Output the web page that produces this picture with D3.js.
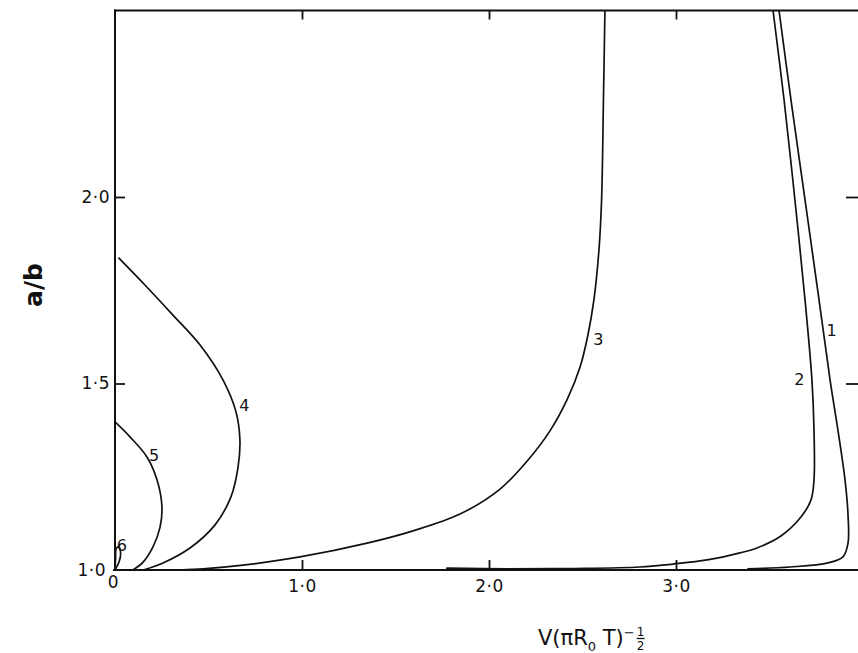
<!DOCTYPE html>
<html>
<head>
<meta charset="utf-8">
<script src="https://cdn.jsdelivr.net/npm/d3@7"></script>
<style>
  html, body { margin: 0; padding: 0; background: #fff; }
  svg { display: block; }
  text { font-family: "DejaVu Sans", sans-serif; fill: #111; }
</style>
</head>
<body>
<svg id="chart" width="858" height="653"></svg>
<script>
// Tick values and their printed labels
const xTicks = [0, 1, 2, 3];
const xTickLabels = ["0", "1·0", "2·0", "3·0"];
const yTicks = [1.0, 1.5, 2.0];
const yTickLabels = ["1·0", "1·5", "2·0"];

// Curves: [V(πR0T)^-1/2, a/b]
const curve1 = [[3.551, 2.5], [3.615, 2.260], [3.690, 1.992], [3.765, 1.724], [3.824, 1.509],
  [3.866, 1.375], [3.904, 1.241], [3.920, 1.147], [3.920, 1.072], [3.893, 1.035],
  [3.813, 1.019], [3.610, 1.008], [3.385, 1.003]];
const curve2 = [[3.519, 2.5], [3.578, 2.260], [3.636, 1.992], [3.690, 1.724], [3.727, 1.509],
  [3.738, 1.375], [3.738, 1.241], [3.722, 1.188], [3.668, 1.142], [3.561, 1.091],
  [3.433, 1.059], [3.342, 1.046], [3.166, 1.027], [2.984, 1.016], [2.807, 1.008],
  [2.449, 1.004], [2.096, 1.003], [1.775, 1.005]];
const curve3 = [[0.348, 1.0], [0.471, 1.003], [0.684, 1.013], [0.989, 1.035], [1.348, 1.072],
  [1.594, 1.105], [1.845, 1.150], [2.059, 1.217], [2.209, 1.295], [2.326, 1.373],
  [2.417, 1.456], [2.487, 1.544], [2.529, 1.630], [2.561, 1.724], [2.588, 1.858],
  [2.602, 1.992], [2.612, 2.260], [2.620, 2.5]];
const curve4 = [[0.021, 1.836], [0.160, 1.764], [0.305, 1.686], [0.455, 1.603], [0.578, 1.509],
  [0.647, 1.424], [0.668, 1.349], [0.658, 1.276], [0.620, 1.196], [0.535, 1.121],
  [0.401, 1.059], [0.257, 1.019], [0.150, 1.0]];
const curve5 = [[0.0, 1.397], [0.080, 1.357], [0.171, 1.303], [0.225, 1.241], [0.251, 1.169],
  [0.241, 1.115], [0.203, 1.062], [0.150, 1.021], [0.096, 1.0]];
const curve6 = [[0.0, 1.0], [0.022, 1.022], [0.030, 1.045], [0.020, 1.062], [0.007, 1.058],
  [0.003, 1.030], [0.0, 1.0]];

const curveNames = ["1", "2", "3", "4", "5", "6"];
// Where each curve number is written, in data units
const curveLabelAt = [[3.805, 1.643], [3.632, 1.512], [2.557, 1.619], [0.665, 1.442], [0.182, 1.306], [0.010, 1.067]];

const svg = d3.select("#chart");
const x = d3.scaleLinear().domain([0, 3.984]).range([115, 860]);
const y = d3.scaleLinear().domain([1.0, 2.5]).range([570, 10.5]);

// frame lines
const frame = svg.append("g").attr("stroke", "#111").attr("stroke-width", 2).attr("fill", "none");
frame.append("line").attr("x1", x(0)).attr("x2", x(0)).attr("y1", y(2.5) - 1).attr("y2", y(1.0) + 1);
frame.append("line").attr("x1", x(0) - 1).attr("x2", 858).attr("y1", y(2.5)).attr("y2", y(2.5));
frame.append("line").attr("x1", x(0) - 2).attr("x2", 858).attr("y1", y(1.0)).attr("y2", y(1.0));

function styleAxis(g) {
  g.select(".domain").remove();
  g.selectAll(".tick line").attr("stroke", "#111").attr("stroke-width", 1.8);
  g.selectAll(".tick text").style("font-size", "17px").style("letter-spacing", "0.5px").attr("fill", "#111");
}

// bottom axis: ticks point up into the plot
svg.append("g")
  .attr("transform", `translate(0,${y(1.0)})`)
  .call(d3.axisBottom(x).tickValues(xTicks)
    .tickFormat((d, i) => xTickLabels[i]).tickSizeInner(-10).tickSizeOuter(0).tickPadding(10))
  .call(styleAxis)
  .call(g => g.selectAll(".tick").filter(d => d === 0).select("line").remove())
  .call(g => g.selectAll(".tick").filter(d => d === 0).select("text").attr("x", -2).attr("y", 6));

// top axis: ticks only
svg.append("g")
  .attr("transform", `translate(0,${y(2.5)})`)
  .call(d3.axisTop(x).tickValues(xTicks.filter(d => d > 0))
    .tickFormat("").tickSizeInner(-9).tickSizeOuter(0))
  .call(styleAxis);

// left axis
svg.append("g")
  .attr("transform", `translate(${x(0)},0)`)
  .call(d3.axisLeft(y).tickValues(yTicks)
    .tickFormat((d, i) => yTickLabels[i]).tickSizeInner(-10).tickSizeOuter(0).tickPadding(5))
  .call(styleAxis)
  .call(g => g.selectAll(".tick").filter(d => d === 1.0).select("line").remove())
  .call(g => g.selectAll(".tick").filter(d => d === 1.0).select("text").attr("x", -9));

// right axis (frame edge lies just outside the view)
svg.append("g")
  .attr("transform", `translate(${x.range()[1]},0)`)
  .call(d3.axisRight(y).tickValues(yTicks.filter(d => d > 1))
    .tickFormat("").tickSizeInner(-14).tickSizeOuter(0))
  .call(styleAxis);

// curves
svg.append("clipPath").attr("id", "plotClip")
  .append("rect").attr("x", x(0)).attr("y", y(2.5)).attr("width", 860 - x(0)).attr("height", y(1.0) - y(2.5));

const line = d3.line().x(d => x(d[0])).y(d => y(d[1])).curve(d3.curveCatmullRom.alpha(0.5));
const curves = [curve1, curve2, curve3, curve4, curve5, curve6];
svg.append("g").attr("clip-path", "url(#plotClip)")
  .selectAll("path").data(curves).join("path")
  .attr("d", line)
  .attr("fill", "none").attr("stroke", "#111").attr("stroke-width", 1.7)
  .attr("stroke-linejoin", "round").attr("stroke-linecap", "round");

// curve numbers
svg.append("g").selectAll("text").data(curveNames).join("text")
  .attr("x", (d, i) => x(curveLabelAt[i][0]))
  .attr("y", (d, i) => y(curveLabelAt[i][1]))
  .attr("dy", "0.35em")
  .style("font-size", "16px")
  .text(d => d);

// y title
svg.append("text")
  .attr("transform", `translate(42,285) rotate(-90)`)
  .attr("text-anchor", "middle")
  .style("font-size", "25px").style("font-weight", "bold")
  .text("a/b");

// x title: V(πR0 T)^-1/2
const xt = svg.append("text").attr("x", 538).attr("y", 645).style("font-size", "21px");
xt.append("tspan").text("V(πR");
xt.append("tspan").attr("dy", 6).style("font-size", "13px").text("0");
xt.append("tspan").attr("dy", -6).text(" T)");
xt.append("tspan").attr("dy", -8).style("font-size", "13px").text("−");
const bb = xt.node().getBBox();
const fx = bb.x + bb.width + 6;
svg.append("text").attr("x", fx).attr("y", 636).attr("text-anchor", "middle")
  .style("font-size", "12px").text("1");
svg.append("line").attr("x1", fx - 4).attr("x2", fx + 4).attr("y1", 638.5).attr("y2", 638.5)
  .attr("stroke", "#111").attr("stroke-width", 1.3);
svg.append("text").attr("x", fx).attr("y", 650).attr("text-anchor", "middle")
  .style("font-size", "12px").text("2");
</script>
</body>
</html>
